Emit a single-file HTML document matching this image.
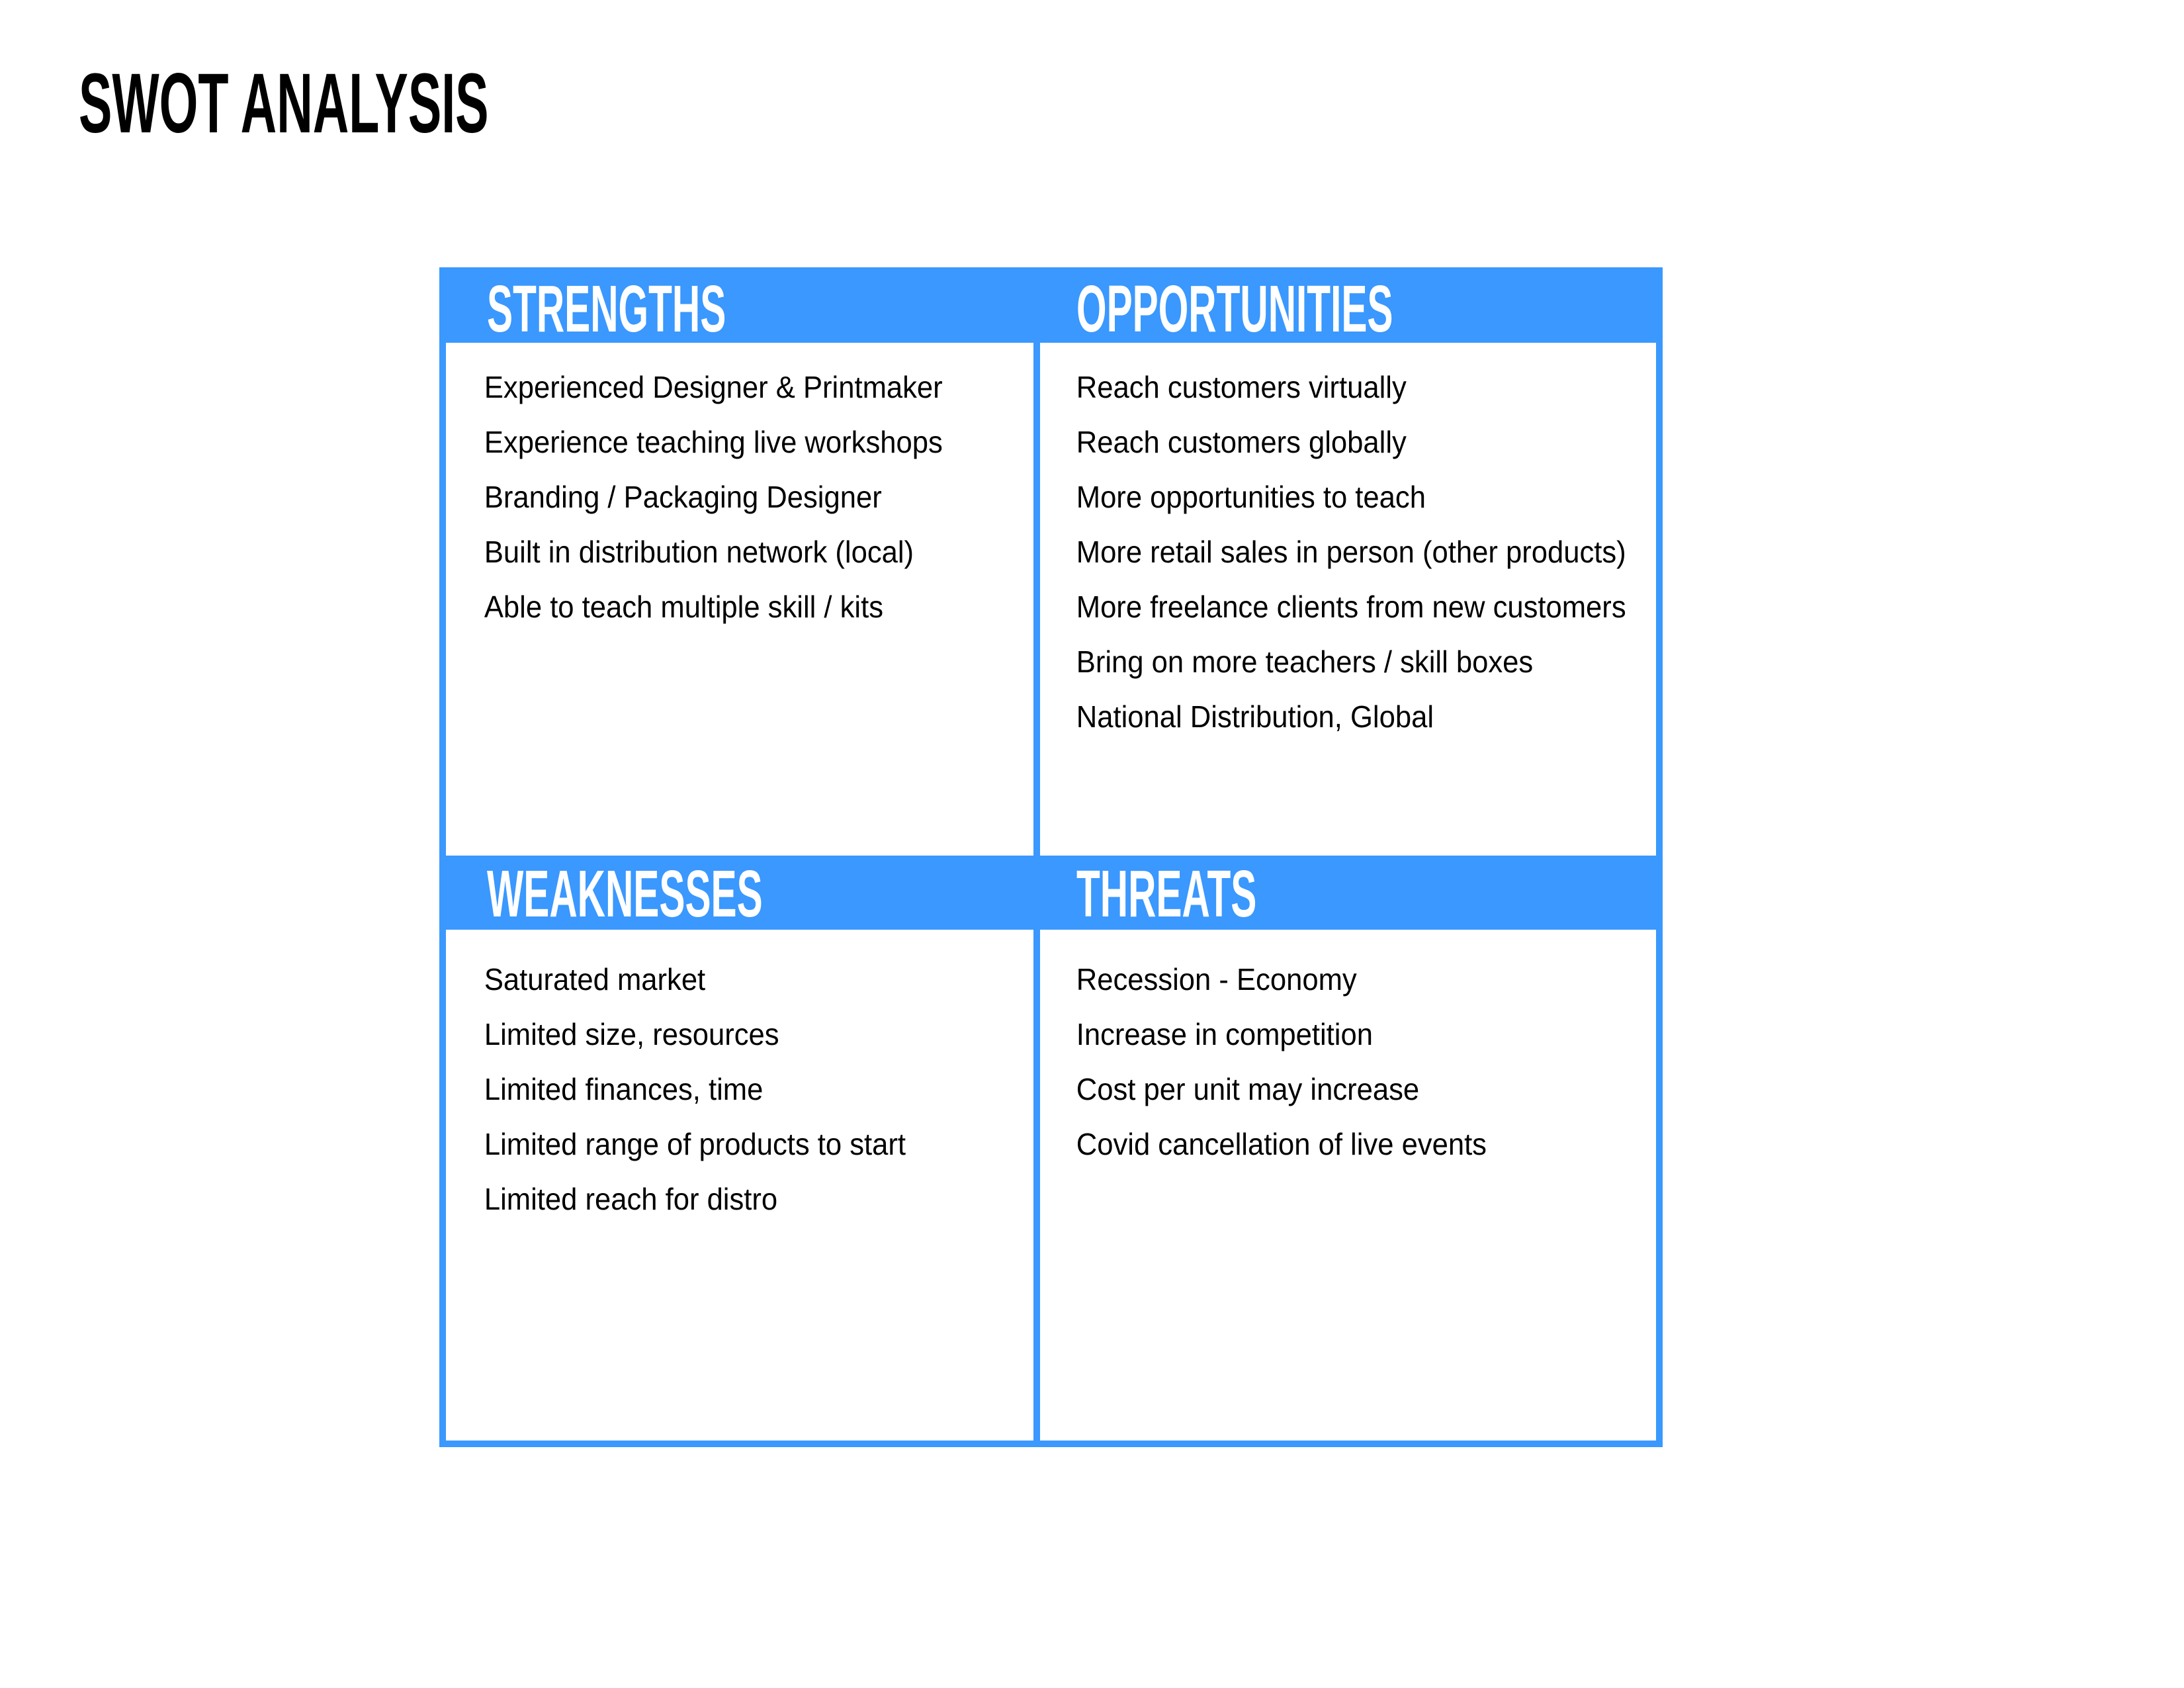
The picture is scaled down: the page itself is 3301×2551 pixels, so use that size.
<!DOCTYPE html>
<html><head><meta charset="utf-8"><style>
html,body{margin:0;padding:0;background:#fff;}
svg{display:block;}
.b{font-family:"Liberation Sans",Arial,sans-serif;font-size:46px;fill:#000;}
.h{font-family:"Liberation Sans Narrow","Liberation Sans",sans-serif;font-weight:bold;font-size:100px;fill:#fff;}
</style></head><body>
<svg width="3301" height="2551" viewBox="0 0 3301 2551" xmlns="http://www.w3.org/2000/svg">
<rect width="3301" height="2551" fill="#fff"/>
<text transform="translate(119,200) scale(0.59,1)" font-family="Liberation Sans Narrow, Liberation Sans, sans-serif" font-weight="bold" font-size="128" fill="#000">SWOT ANALYSIS</text>
<rect x="669" y="409" width="1839" height="1773" fill="none" stroke="#3a98fe" stroke-width="10"/>
<rect x="1562" y="404" width="10" height="1783" fill="#3a98fe"/>
<rect x="664" y="404" width="1849" height="114" fill="#3a98fe"/>
<rect x="664" y="1293" width="1849" height="112" fill="#3a98fe"/>
<text class="h" transform="translate(736,501) scale(0.586,1)">STRENGTHS</text>
<text class="h" transform="translate(1627,501) scale(0.586,1)">OPPORTUNITIES</text>
<text class="h" transform="translate(736,1385) scale(0.586,1)">WEAKNESSES</text>
<text class="h" transform="translate(1627,1385) scale(0.586,1)">THREATS</text>
<g class="b" transform="scale(0.948,1)">
<text x="772" y="601">Experienced Designer &amp; Printmaker</text>
<text x="772" y="684">Experience teaching live workshops</text>
<text x="772" y="767">Branding / Packaging Designer</text>
<text x="772" y="850">Built in distribution network (local)</text>
<text x="772" y="933">Able to teach multiple skill / kits</text>
<text x="1716" y="601">Reach customers virtually</text>
<text x="1716" y="684">Reach customers globally</text>
<text x="1716" y="767">More opportunities to teach</text>
<text x="1716" y="850">More retail sales in person (other products)</text>
<text x="1716" y="933">More freelance clients from new customers</text>
<text x="1716" y="1016">Bring on more teachers / skill boxes</text>
<text x="1716" y="1099">National Distribution, Global</text>
<text x="772" y="1496">Saturated market</text>
<text x="772" y="1579">Limited size, resources</text>
<text x="772" y="1662">Limited finances, time</text>
<text x="772" y="1745">Limited range of products to start</text>
<text x="772" y="1828">Limited reach for distro</text>
<text x="1716" y="1496">Recession - Economy</text>
<text x="1716" y="1579">Increase in competition</text>
<text x="1716" y="1662">Cost per unit may increase</text>
<text x="1716" y="1745">Covid cancellation of live events</text>
</g>
</svg>
</body></html>
